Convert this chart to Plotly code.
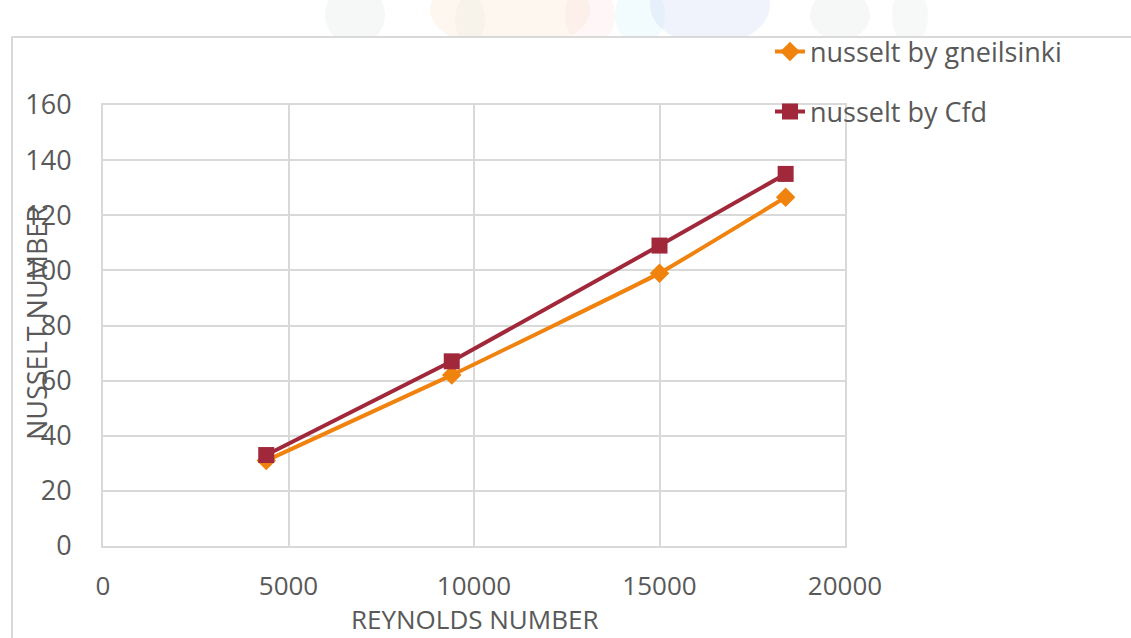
import plotly.graph_objects as go

reynolds = [4400, 9400, 15000, 18400]
nusselt_gnielinski = [31, 62, 99, 126.5]
nusselt_cfd = [33, 67, 109, 135]

x_ticks = [0, 5000, 10000, 15000, 20000]
y_ticks = [0, 20, 40, 60, 80, 100, 120, 140, 160]

FONT = "Open Sans"
TXT = "#595959"
GRID = "#d9d9d9"
FS = 27
FSX = 26

fig = go.Figure()
fig.add_trace(go.Scatter(
    x=reynolds, y=nusselt_gnielinski, name="nusselt by gneilsinki",
    mode="lines+markers", line=dict(color="#f0820e", width=4, shape="spline", smoothing=0.3),
    marker=dict(symbol="diamond", size=15, color="#f0820e"), legend="legend",
))
fig.add_trace(go.Scatter(
    x=reynolds, y=nusselt_cfd, name="nusselt by Cfd",
    mode="lines+markers", line=dict(color="#a0283a", width=4),
    marker=dict(symbol="square", size=16, color="#a0283a"), legend="legend2",
))

L, R, T, B = 103, 845, 105, 546
W, H = 1131, 638
pw, ph = R - L, B - T


def px(x):
    return (x - L) / pw


def py(y):
    return (B - y) / ph


shapes = []
# faint ornament at the very top of the page
for cx, cy, rx, ry, col, op in [
    (355, 15, 30, 30, "#b4c0c0", 0.12),
    (470, 20, 15, 25, "#b4c0c0", 0.10),
    (510, 10, 80, 40, "#fbd2a4", 0.18),
    (590, 15, 25, 30, "#f9bcc8", 0.14),
    (640, 15, 25, 30, "#bff2f8", 0.2),
    (710, 5, 60, 40, "#bcc8f0", 0.22),
    (840, 15, 30, 25, "#b4c0c0", 0.12),
    (910, 15, 18, 30, "#b4c0c0", 0.10),
]:
    shapes.append(dict(type="circle", xref="paper", yref="paper",
                       x0=px(cx - rx), x1=px(cx + rx), y0=py(cy + ry), y1=py(cy - ry),
                       fillcolor=col, opacity=op, line=dict(width=0), layer="below"))
# chart frame
shapes.append(dict(type="rect", xref="paper", yref="paper",
                   x0=px(12), x1=px(W + 20), y0=py(H + 20), y1=py(37),
                   fillcolor="white", line=dict(color=GRID, width=2), layer="below"))

annotations = [
    dict(text="REYNOLDS NUMBER", xref="paper", yref="paper", x=px(474), y=py(638),
         xanchor="center", yanchor="bottom", showarrow=False, borderpad=0,
         font=dict(family=FONT, size=FSX, color=TXT)),
    dict(text="NUSSELT NUMBER", xref="paper", yref="paper", x=px(36), y=py(323),
         xanchor="center", yanchor="middle", showarrow=False, textangle=-90,
         font=dict(family=FONT, size=FS, color=TXT)),
]

fig.update_layout(
    width=W, height=H,
    margin=dict(l=L, r=W - R, t=T, b=H - B),
    paper_bgcolor="white", plot_bgcolor="rgba(0,0,0,0)",
    font=dict(family=FONT, color=TXT, size=FS),
    shapes=shapes,
    annotations=annotations,
    xaxis=dict(range=[0, 20000], tickvals=x_ticks, ticktext=[str(v) for v in x_ticks],
               showgrid=True, gridcolor=GRID, gridwidth=2, zeroline=False,
               showline=True, linecolor=GRID, linewidth=2, mirror=True,
               ticks="", ticklabelstandoff=16, tickfont=dict(size=FSX, color=TXT)),
    yaxis=dict(range=[0, 160], tickvals=y_ticks,
               showgrid=True, gridcolor=GRID, gridwidth=2, zeroline=False,
               showline=True, linecolor=GRID, linewidth=2, mirror=True,
               ticks="", ticklabelstandoff=24, tickfont=dict(size=FS, color=TXT)),
    legend=dict(x=px(770), y=py(52), xanchor="left", yanchor="middle",
                bgcolor="rgba(0,0,0,0)", font=dict(size=FS, color=TXT)),
    legend2=dict(x=px(770), y=py(112), xanchor="left", yanchor="middle",
                 bgcolor="rgba(0,0,0,0)", font=dict(size=FS, color=TXT)),
    showlegend=True,
)

fig.write_html("out.html")
